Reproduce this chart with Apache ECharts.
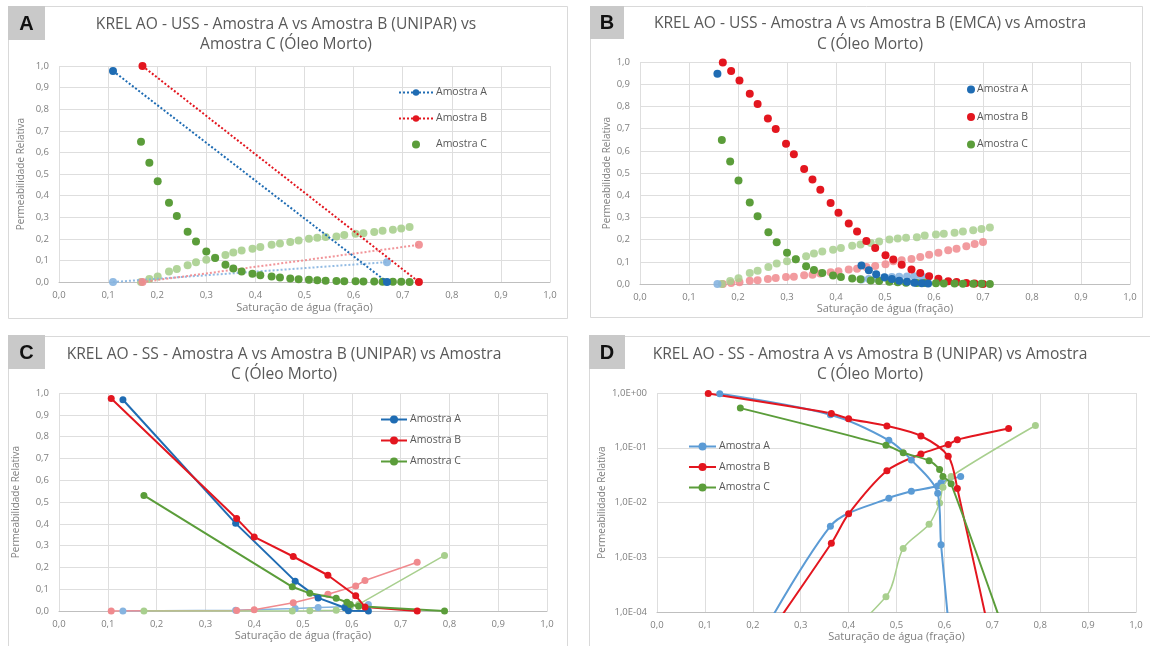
<!DOCTYPE html>
<html>
<head>
<meta charset="utf-8">
<script src="https://cdn.jsdelivr.net/npm/echarts@6/dist/echarts.min.js"></script>
<style>
html,body{margin:0;padding:0;background:#fff;}
#chart{width:1150px;height:646px;}
</style>
</head>
<body>
<div id="chart"></div>
<script>
// ---------- DATA ----------
const xTicks = [0,0.1,0.2,0.3,0.4,0.5,0.6,0.7,0.8,0.9,1.0];
const legendNames = ['Amostra A', 'Amostra B', 'Amostra C'];
const titlesL1 = [
  'KREL AO - USS - Amostra A vs Amostra B (UNIPAR) vs',
  'KREL AO - USS - Amostra A vs Amostra B (EMCA) vs Amostra',
  'KREL AO - SS - Amostra A vs Amostra B (UNIPAR) vs Amostra',
  'KREL AO - SS - Amostra A vs Amostra B (UNIPAR) vs Amostra'
];
const titlesL2 = ['Amostra C (Óleo Morto)', 'C (Óleo Morto)', 'C (Óleo Morto)', 'C (Óleo Morto)'];
const panelLetters = ['A', 'B', 'C', 'D'];
const xName = 'Saturação de água (fração)';
const yName = 'Permeabilidade Relativa';

// Panel A (USS, UNIPAR) - Amostra A and B
const aSwA = [0.110, 0.668];
const aKroA = [0.977, 0.0];
const aKrwA = [0.0, 0.092];
const aSwB = [0.170, 0.733];
const aKroB = [1.0, 0.0];
const aKrwB = [0.0, 0.172];

// Amostra C (Óleo Morto) USS - panels A and B
const swC = [0.167,0.184,0.201,0.224,0.240,0.262,0.279,0.300,0.318,0.339,0.355,0.372,0.394,0.410,0.433,0.450,0.471,0.488,0.509,0.526,0.543,0.565,0.581,0.604,0.620,0.642,0.659,0.680,0.697,0.714];
const kroC = [0.649,0.552,0.466,0.367,0.305,0.233,0.188,0.141,0.111,0.080,0.063,0.049,0.038,0.031,0.025,0.021,0.016,0.013,0.010,0.008,0.006,0.005,0.004,0.003,0.002,0.002,0.001,0.001,0.001,0.0];
const krwC = [0.0,0.014,0.026,0.049,0.060,0.077,0.092,0.103,0.112,0.125,0.137,0.146,0.154,0.162,0.172,0.178,0.185,0.192,0.200,0.205,0.208,0.211,0.218,0.223,0.226,0.231,0.237,0.242,0.248,0.255];

// Panel B (USS, EMCA)
const bSwA = [0.158,0.452,0.467,0.482,0.499,0.514,0.529,0.545,0.560,0.575,0.588];
const bKroA = [0.947,0.083,0.062,0.044,0.030,0.022,0.015,0.010,0.006,0.003,0.002];
const bKrwA = [0.0,0.020,0.022,0.025,0.028,0.031,0.033,0.034,0.035,0.034,0.033];
const bSwB = [0.169,0.186,0.203,0.224,0.240,0.261,0.277,0.298,0.314,0.335,0.352,0.368,0.389,0.405,0.426,0.443,0.462,0.480,0.501,0.517,0.534,0.554,0.572,0.590,0.609,0.629,0.646,0.666,0.683,0.700];
const bKroB = [0.998,0.959,0.917,0.857,0.811,0.746,0.698,0.632,0.584,0.518,0.471,0.425,0.365,0.321,0.272,0.236,0.194,0.162,0.129,0.110,0.087,0.065,0.050,0.035,0.024,0.012,0.009,0.005,0.002,0.0];
const bKrwB = [0.0,0.005,0.008,0.015,0.017,0.023,0.027,0.032,0.033,0.039,0.042,0.047,0.053,0.057,0.065,0.069,0.077,0.081,0.089,0.102,0.107,0.113,0.122,0.132,0.141,0.152,0.159,0.170,0.180,0.189];

// Panels C and D (SS, UNIPAR)
const sSwA = [0.131,0.362,0.484,0.531,0.586,0.593,0.634];
const sKroA = [0.969,0.402,0.137,0.060,0.0148,0.0017,0.0000003];
const sKrwA = [0.0000015,0.0037,0.012,0.016,0.020,0.023,0.030];
const sSwB = [0.107,0.364,0.400,0.480,0.551,0.608,0.627,0.734];
const sKroB = [0.975,0.424,0.340,0.250,0.164,0.070,0.018,0.000001];
const sKrwB = [0.000001,0.0018,0.0062,0.038,0.077,0.115,0.140,0.224];
const sSwC = [0.174,0.478,0.514,0.568,0.590,0.597,0.614,0.790];
const sKroC = [0.530,0.111,0.081,0.058,0.040,0.030,0.022,0.000001];
const sKrwC = [0.0000006,0.00019,0.00145,0.0040,0.0098,0.019,0.030,0.255];

// ---------- BUILD ----------
const zip = (xs, ys) => xs.map((x, i) => [x, ys[i]]);
const FONT = 'Open Sans';
const C = {
  blue: '#1f6cb3', blueL: '#86b4e0', blueD: '#5b9bd5',
  red: '#e3161f', redL: '#f08a8e',
  green: '#5b9d3a', greenL: '#a8cf8e'
};
const fmtLin = v => v.toFixed(1).replace('.', ',');
const fmtLog = v => {
  const e = Math.round(Math.log10(v));
  return '1,0E' + (e >= 0 ? '+' : '-') + String(Math.abs(e)).padStart(2, '0');
};

const grids = [
  {left: 59, top: 66, width: 491, height: 216},
  {left: 640, top: 62, width: 490, height: 222},
  {left: 59, top: 393, width: 488, height: 218},
  {left: 657, top: 393, width: 479, height: 219}
];
const yNameGap = [33, 28, 38, 50];
const xNameGap = [20, 17, 19, 19];

const xAxes = grids.map((g, i) => ({
  gridIndex: i, type: 'value', min: xTicks[0], max: xTicks[xTicks.length - 1], interval: 0.1,
  name: xName, nameLocation: 'middle', nameGap: xNameGap[i],
  nameTextStyle: {color: '#7f7f7f', fontSize: 11, fontFamily: FONT},
  axisLine: {show: true, lineStyle: {color: '#bfbfbf'}},
  axisTick: {show: false},
  axisLabel: {color: '#808080', fontSize: 9.5, fontFamily: FONT, margin: 8, formatter: fmtLin},
  splitLine: {show: true, lineStyle: {color: '#dedede'}}
}));
const yAxes = grids.map((g, i) => {
  const isLog = i === 3;
  return {
    gridIndex: i, type: isLog ? 'log' : 'value',
    min: isLog ? 0.0001 : 0, max: 1, interval: isLog ? undefined : 0.1,
    logBase: 10,
    name: yName, nameLocation: 'middle', nameGap: yNameGap[i], nameRotate: 90,
    nameTextStyle: {color: '#7f7f7f', fontSize: 10, fontFamily: FONT},
    axisLine: {show: false},
    axisTick: {show: false},
    axisLabel: {color: '#808080', fontSize: 9.5, fontFamily: FONT, margin: 10, formatter: isLog ? fmtLog : fmtLin},
    splitLine: {show: true, lineStyle: {color: '#dedede'}}
  };
});

function lineS(name, p, data, color, opts) {
  opts = opts || {};
  return {
    name: name, type: 'line', xAxisIndex: p, yAxisIndex: p, data: data,
    symbol: 'circle', symbolSize: opts.size || 8, smooth: opts.smooth || false,
    itemStyle: {color: color, opacity: opts.op || 1},
    lineStyle: {color: color, width: opts.w || 2, type: opts.type || 'solid', opacity: opts.op || 1},
    z: opts.z || 2, animation: false, clip: true
  };
}
function scatS(name, p, data, color, opts) {
  opts = opts || {};
  return {
    name: name, type: 'scatter', xAxisIndex: p, yAxisIndex: p, data: data,
    symbol: 'circle', symbolSize: opts.size || 8,
    itemStyle: {color: color, opacity: opts.op || 1}, z: opts.z || 2, animation: false
  };
}
const dot = [2, 2];
const series = [
  // Panel A
  lineS('pa:Amostra A', 0, zip(aSwA, aKroA), C.blue, {type: dot, w: 2, z: 4}),
  lineS('pa:Amostra A#w', 0, zip(aSwA, aKrwA), C.blueL, {type: dot, w: 2, op: 0.9, z: 3}),
  lineS('pa:Amostra B', 0, zip(aSwB, aKroB), C.red, {type: dot, w: 2, z: 4}),
  lineS('pa:Amostra B#w', 0, zip(aSwB, aKrwB), C.redL, {type: dot, w: 2, op: 0.9, z: 3}),
  scatS('pa:Amostra C', 0, zip(swC, kroC), C.green, {z: 3}),
  scatS('pa:Amostra C#w', 0, zip(swC, krwC), C.greenL, {op: 0.9}),
  // Panel B
  scatS('pb:Amostra A', 1, zip(bSwA, bKroA), C.blue, {z: 4}),
  scatS('pb:Amostra A#w', 1, zip(bSwA, bKrwA), C.blueL, {z: 3, op: 0.9}),
  scatS('pb:Amostra B', 1, zip(bSwB, bKroB), C.red, {z: 3}),
  scatS('pb:Amostra B#w', 1, zip(bSwB, bKrwB), C.redL, {op: 0.85}),
  scatS('pb:Amostra C', 1, zip(swC, kroC), C.green, {z: 3}),
  scatS('pb:Amostra C#w', 1, zip(swC, krwC), C.greenL, {op: 0.85}),
  // Panel C
  lineS('pc:Amostra A', 2, zip(sSwA, sKroA), C.blue, {w: 2, size: 7, z: 4}),
  lineS('pc:Amostra A#w', 2, zip(sSwA, sKrwA), C.blueL, {w: 1.5, size: 7, z: 3}),
  lineS('pc:Amostra B', 2, zip(sSwB, sKroB), C.red, {w: 2, size: 7, z: 4}),
  lineS('pc:Amostra B#w', 2, zip(sSwB, sKrwB), C.redL, {w: 1.5, size: 7, z: 3}),
  lineS('pc:Amostra C', 2, zip(sSwC, sKroC), C.green, {w: 2, size: 7, z: 4}),
  lineS('pc:Amostra C#w', 2, zip(sSwC, sKrwC), C.greenL, {w: 1.5, size: 7, z: 3}),
  // Panel D
  lineS('pd:Amostra A', 3, zip(sSwA, sKroA), C.blueD, {w: 2, size: 7, smooth: 0.3, z: 4}),
  lineS('pd:Amostra A#w', 3, zip(sSwA, sKrwA), C.blueD, {w: 2, size: 7, smooth: 0.3, z: 3}),
  lineS('pd:Amostra B', 3, zip(sSwB, sKroB), C.red, {w: 2, size: 7, smooth: 0.3, z: 4}),
  lineS('pd:Amostra B#w', 3, zip(sSwB, sKrwB), C.red, {w: 2, size: 7, smooth: 0.3, z: 3}),
  lineS('pd:Amostra C', 3, zip(sSwC, sKroC), C.green, {w: 2, size: 7, smooth: 0.3, z: 4}),
  lineS('pd:Amostra C#w', 3, zip(sSwC, sKrwC), C.greenL, {w: 1.5, size: 7, smooth: 0.3, z: 3})
];

const legendPos = [
  {p: 'pa', left: 398, top: 87, itemWidth: 34, itemHeight: 8, itemGap: 15, pad: -2},
  {p: 'pb', left: 967, top: 84, itemWidth: 8, itemHeight: 8, itemGap: 16.5, pad: -3},
  {p: 'pc', left: 380, top: 414, itemWidth: 26, itemHeight: 10, itemGap: 10, pad: -2},
  {p: 'pd', left: 688, top: 441, itemWidth: 27, itemHeight: 10, itemGap: 9.5, pad: -2}
];
const legends = legendPos.map(l => ({
  orient: 'vertical', left: l.left, top: l.top, itemWidth: l.itemWidth, itemHeight: l.itemHeight,
  itemGap: l.itemGap, padding: 0, selectedMode: false,
  data: legendNames.map(n => l.p + ':' + n),
  formatter: name => name.split(':')[1],
  textStyle: {color: '#595959', fontSize: 10.5, fontFamily: FONT, padding: [0, 0, 0, l.pad]}
}));

const panelRects = [
  {x: 8, y: 6, w: 559, h: 312},
  {x: 590, y: 6, w: 552, h: 311},
  {x: 8, y: 336, w: 559, h: 320},
  {x: 589, y: 336, w: 570, h: 320}
];
const letterBoxes = [
  {x: 8, y: 6, w: 37, h: 34},
  {x: 590, y: 6, w: 34, h: 33},
  {x: 8, y: 335, w: 37, h: 34},
  {x: 589, y: 335, w: 36, h: 34}
];
const titlePos = [
  {x: 286, y1: 25, y2: 45},
  {x: 870, y1: 24, y2: 45},
  {x: 284, y1: 355, y2: 375},
  {x: 870, y1: 355, y2: 375}
];
const graphics = [];
panelRects.forEach(r => graphics.push({type: 'rect', shape: {x: r.x + 0.5, y: r.y + 0.5, width: r.w, height: r.h},
  style: {fill: null, stroke: '#d9d9d9', lineWidth: 1}, silent: true, z: 0}));
letterBoxes.forEach((b, i) => {
  graphics.push({type: 'rect', shape: {x: b.x, y: b.y, width: b.w, height: b.h},
    style: {fill: '#c9c9c9'}, silent: true, z: 1});
  graphics.push({type: 'text', x: b.x + b.w / 2, y: b.y + b.h / 2 + 1,
    style: {text: panelLetters[i], textAlign: 'center', textVerticalAlign: 'middle',
      font: 'bold 20px "Liberation Sans", Arial, sans-serif', fill: '#111'}, silent: true, z: 2});
});
titlePos.forEach((t, i) => {
  graphics.push({type: 'text', x: t.x, y: t.y1, style: {text: titlesL1[i], textAlign: 'center', textVerticalAlign: 'middle',
    font: '15.6px "' + FONT + '"', fill: '#595959'}, silent: true});
  graphics.push({type: 'text', x: t.x, y: t.y2, style: {text: titlesL2[i], textAlign: 'center', textVerticalAlign: 'middle',
    font: '15.6px "' + FONT + '"', fill: '#595959'}, silent: true});
});

const chart = echarts.init(document.getElementById('chart'), null, {renderer: 'canvas'});
chart.setOption({
  backgroundColor: '#ffffff',
  animation: false,
  grid: grids,
  xAxis: xAxes,
  yAxis: yAxes,
  legend: legends,
  series: series,
  graphic: graphics
});
</script>
</body>
</html>
